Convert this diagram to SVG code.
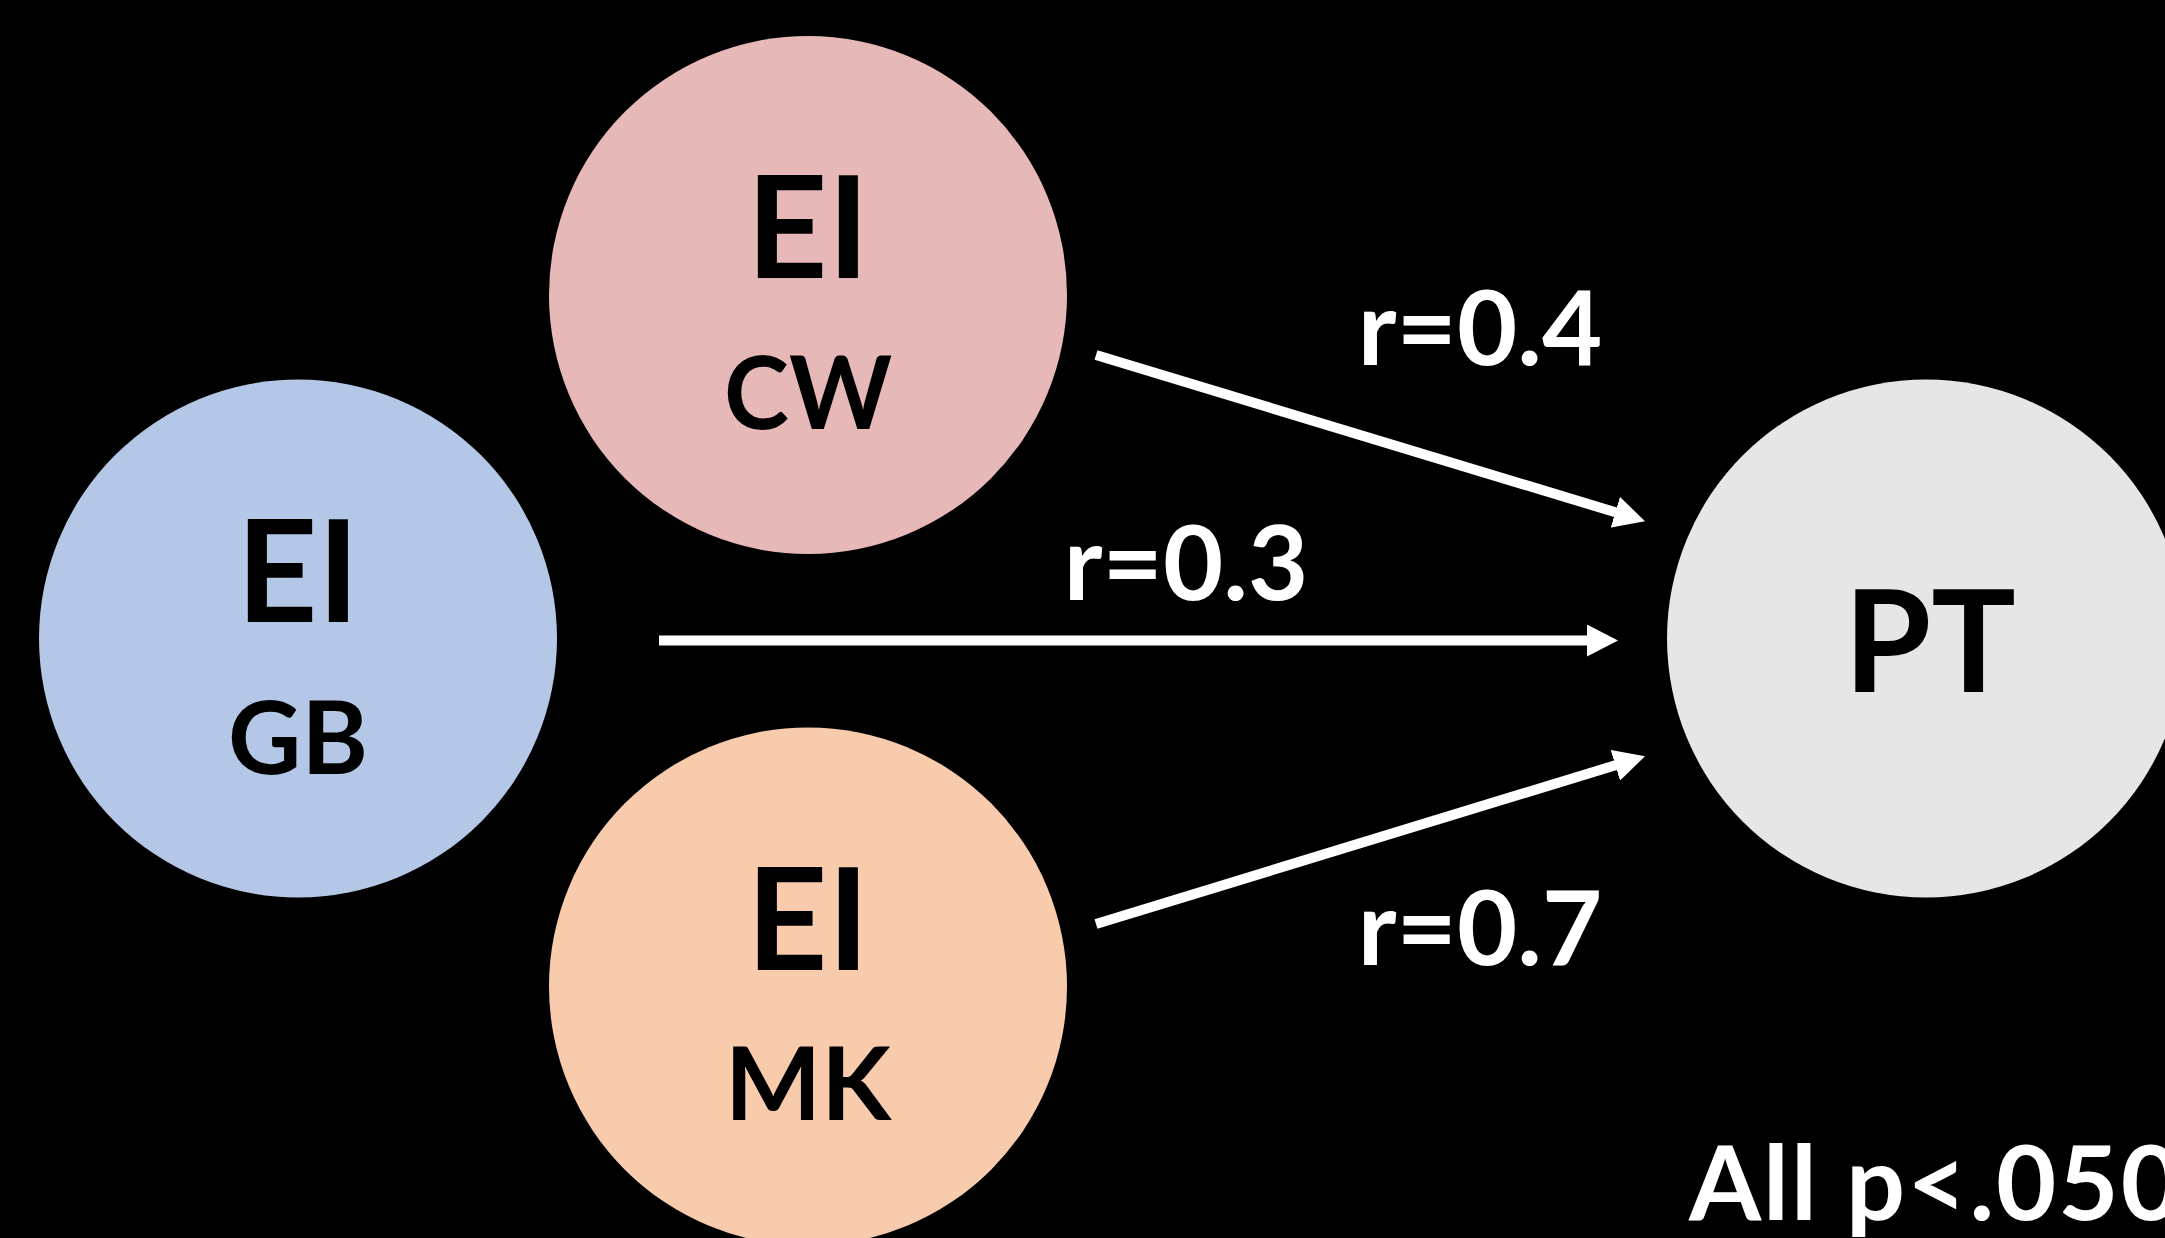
<svg xmlns="http://www.w3.org/2000/svg" width="2165" height="1238" viewBox="0 0 2165 1238">
  <style>
    .node-text { font-family: Lato, "Open Sans", "Liberation Sans", sans-serif; font-weight: bold; fill: #000000; text-anchor: middle; }
    .big { font-size: 141px; }
    .sub { font-size: 101px; }
    .label { font-family: Lato, "Open Sans", "Liberation Sans", sans-serif; font-weight: bold; fill: #FFFFFF; font-size: 104px; }
    .conn { stroke: #FFFFFF; stroke-width: 10; fill: none; stroke-linecap: butt; }
  </style>
  <defs>
    <marker id="head" viewBox="0 0 31 32" refX="1" refY="16" markerWidth="31" markerHeight="32" markerUnits="userSpaceOnUse" orient="auto">
      <path d="M0,0 L31,16 L0,32 Z" fill="#FFFFFF"/>
    </marker>
  </defs>
  <rect x="0" y="0" width="2165" height="1238" fill="#000000"/>

  <g id="node-cw">
    <circle cx="808" cy="295" r="259" fill="#E6B8B7"/>
    <text class="node-text big" x="808" y="278">EI</text>
    <text class="node-text sub" x="808" y="429" textLength="168" lengthAdjust="spacingAndGlyphs">CW</text>
  </g>
  <g id="node-gb">
    <circle cx="298" cy="638.5" r="259" fill="#B4C7E7"/>
    <text class="node-text big" x="298" y="622">EI</text>
    <text class="node-text sub" x="298" y="774">GB</text>
  </g>
  <g id="node-mk">
    <circle cx="808" cy="986.5" r="259" fill="#F8CBAD"/>
    <text class="node-text big" x="808" y="970">EI</text>
    <text class="node-text sub" x="808" y="1120" textLength="166" lengthAdjust="spacingAndGlyphs">MK</text>
  </g>
  <g id="node-pt">
    <circle cx="1926" cy="638.5" r="259" fill="#E7E6E6"/>
    <text class="node-text big" x="1930" y="692">PT</text>
  </g>

  <g id="connectors">
    <line class="conn" x1="1096" y1="355" x2="1616.3" y2="512.5" marker-end="url(#head)"/>
    <line class="conn" x1="659" y1="640.5" x2="1588" y2="640.5" marker-end="url(#head)"/>
    <line class="conn" x1="1096" y1="924" x2="1616.3" y2="765" marker-end="url(#head)"/>
  </g>

  <g id="labels">
    <text class="label" x="1480" y="365" text-anchor="middle">r=0.4</text>
    <text class="label" x="1186" y="600" text-anchor="middle">r=0.3</text>
    <text class="label" x="1480" y="965" text-anchor="middle">r=0.7</text>
    <text class="label" x="1689" y="1220" textLength="492" lengthAdjust="spacing">All p&lt;.050</text>
  </g>
</svg>
